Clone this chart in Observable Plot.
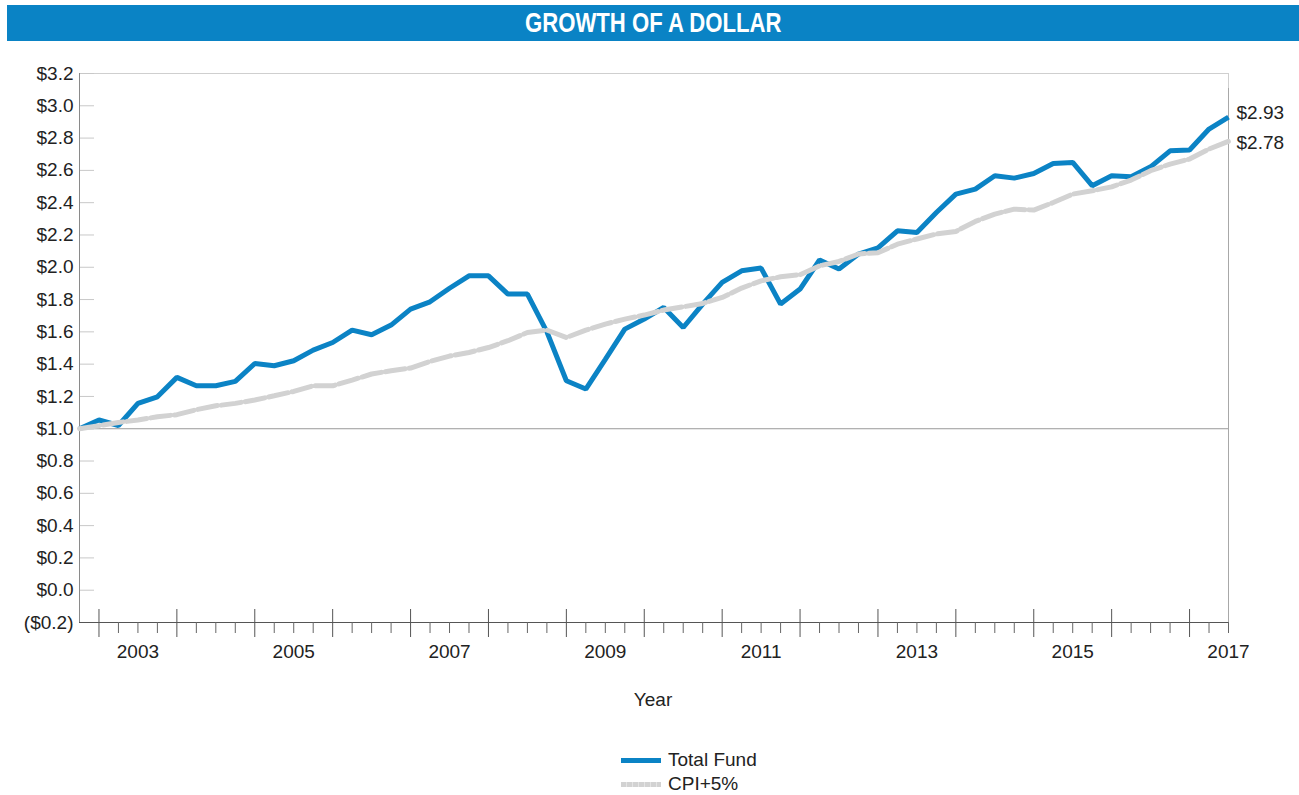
<!DOCTYPE html>
<html><head><meta charset="utf-8">
<script src="https://cdn.jsdelivr.net/npm/d3@7"></script>
<script src="https://cdn.jsdelivr.net/npm/@observablehq/plot@0.6"></script>
<style>
body{margin:0;background:#fff;font-family:"Liberation Sans",Arial,sans-serif;color:#222;}
#wrap{position:relative;width:1299px;height:795px;overflow:hidden;background:#fff;}
#title{position:absolute;left:7px;top:5px;width:1292px;height:36px;background:#0a83c5;color:#fff;
 display:flex;align-items:center;justify-content:center;}
#title span{display:inline-block;font-weight:bold;font-size:28px;transform:scaleX(0.79);letter-spacing:0;}
#chart{position:absolute;left:0;top:46px;}
.leg{position:absolute;left:621px;display:flex;align-items:center;font-size:19px;height:24px;}
.sw{width:40px;height:5px;margin-right:7px;}
</style></head>
<body><div id="wrap">
<div id="title"><span>GROWTH OF A DOLLAR</span></div>
<div id="chart"></div>
<div class="leg" style="top:748px"><div class="sw" style="background:#0b83c5"></div><span>Total Fund</span></div>
<div class="leg" style="top:772px"><div class="sw" style="background:repeating-linear-gradient(90deg,#d2d2d2 0 5px,#e4e4e4 5px 6px)"></div><span>CPI+5%</span></div>
</div>
<script>
const quarterEnds = [
 "2002-09","2002-12",
 "2003-03","2003-06","2003-09","2003-12",
 "2004-03","2004-06","2004-09","2004-12",
 "2005-03","2005-06","2005-09","2005-12",
 "2006-03","2006-06","2006-09","2006-12",
 "2007-03","2007-06","2007-09","2007-12",
 "2008-03","2008-06","2008-09","2008-12",
 "2009-03","2009-06","2009-09","2009-12",
 "2010-03","2010-06","2010-09","2010-12",
 "2011-03","2011-06","2011-09","2011-12",
 "2012-03","2012-06","2012-09","2012-12",
 "2013-03","2013-06","2013-09","2013-12",
 "2014-03","2014-06","2014-09","2014-12",
 "2015-03","2015-06","2015-09","2015-12",
 "2016-03","2016-06","2016-09","2016-12",
 "2017-03","2017-06"
];
const totalFund = [
 1.00,1.054,
 1.02,1.157,1.198,1.318,
 1.266,1.266,1.293,1.404,
 1.39,1.421,1.487,1.534,
 1.611,1.582,1.642,1.741,
 1.786,1.87,1.947,1.947,
 1.834,1.834,1.60,1.297,
 1.246,1.43,1.617,1.679,
 1.751,1.627,1.772,1.906,
 1.978,1.995,1.772,1.865,
 2.045,1.989,2.082,2.12,
 2.226,2.216,2.339,2.453,
 2.484,2.567,2.552,2.581,
 2.643,2.649,2.505,2.567,
 2.56,2.622,2.721,2.726,
 2.856,2.93
];
const cpiPlus5 = [
 1.00,1.019,
 1.039,1.054,1.074,1.087,
 1.118,1.142,1.157,1.178,
 1.204,1.231,1.266,1.266,
 1.301,1.339,1.359,1.376,
 1.417,1.45,1.472,1.503,
 1.545,1.596,1.611,1.565,
 1.611,1.648,1.679,1.704,
 1.735,1.755,1.776,1.813,
 1.871,1.916,1.941,1.954,
 2.009,2.036,2.082,2.09,
 2.143,2.175,2.206,2.222,
 2.284,2.329,2.36,2.354,
 2.401,2.453,2.474,2.498,
 2.54,2.598,2.639,2.67,
 2.732,2.78
];
const yTicks = [-0.2,0,0.2,0.4,0.6,0.8,1.0,1.2,1.4,1.6,1.8,2.0,2.2,2.4,2.6,2.8,3.0,3.2];
const yearLabels = ["2003","2005","2007","2009","2011","2013","2015","2017"];
const majorYears = ["2003","2004","2005","2006","2007","2008","2009","2010","2011","2012","2013","2014","2015","2016","2017"];
const seriesNames = ["Total Fund","CPI+5%"];

const toYear = s => { const [y,m] = s.split("-").map(Number); return y + m/12; };
const tq = quarterEnds.map(toYear);
const fund = tq.map((t,i)=>({t, v: totalFund[i], s: seriesNames[0]}));
const cpi = tq.map((t,i)=>({t, v: cpiPlus5[i], s: seriesNames[1]}));
const xDomain = [tq[0], tq[tq.length-1]];
const majorPos = majorYears.map(Number);
const minorPos = tq.slice(1).filter(t => !Number.isInteger(t));
const labelPos = yearLabels.map(y => +y + 0.5);
const yFmt = d => d < 0 ? `($${Math.abs(d).toFixed(1)})` : `$${d.toFixed(1)}`;

const W = 1299, H = 680, mL = 79, mR = 71, mT = 27, mB = 104;
const frameW = W - mL - mR, frameH = H - mT - mB;

const chart = Plot.plot({
  width: W, height: H,
  marginLeft: mL, marginRight: mR, marginTop: mT, marginBottom: mB,
  x: {domain: xDomain},
  y: {domain: [yTicks[0], yTicks[yTicks.length-1]]},
  style: {fontFamily: '"Liberation Sans", Arial, sans-serif', fontSize: "19px", color: "#222", background: "#fff"},
  marks: [
    Plot.frame({stroke: "#cfcfcf"}),
    Plot.tickY(yTicks, {stroke: "#c8c8c8", insetRight: frameW - 15}),
    Plot.ruleY([1], {stroke: "#9a9a9a", strokeWidth: 1}),
    Plot.ruleX([xDomain[0]], {stroke: "#8a8a8a"}),
    Plot.ruleX([xDomain[1]], {stroke: "#a8a8a8", y1: yTicks[0], y2: yTicks[yTicks.length-1], insetBottom: -15}),
    Plot.ruleY([yTicks[0]], {stroke: "#555"}),
    Plot.tickX(majorPos, {stroke: "#555", insetTop: frameH - 13, insetBottom: -15}),
    Plot.tickX(minorPos, {stroke: "#666", insetTop: frameH, insetBottom: -11}),
    Plot.axisY({ticks: yTicks, tickSize: 0, tickPadding: 6, tickFormat: yFmt, label: null, fontSize: 19}),
    Plot.axisX({ticks: labelPos, tickSize: 0, tickPadding: 22, tickFormat: d => String(Math.floor(d)), label: null, fontSize: 19}),
    Plot.text(["Year"], {frameAnchor: "bottom", dy: 83, dx: -1, fontSize: 19, fill: "#222"}),
    Plot.line(fund, {x: "t", y: "v", stroke: "#0b83c5", strokeWidth: 5, strokeLinejoin: "miter", strokeLinecap: "butt"}),
    Plot.line(cpi, {x: "t", y: "v", stroke: "#d2d2d2", strokeWidth: 5, strokeDasharray: "20,4", strokeLinejoin: "miter"}),
    Plot.text([fund[fund.length-1]], {x: "t", y: "v", text: d => "$" + d.v.toFixed(2), textAnchor: "start", dx: 8, dy: -4, fontSize: 19, fill: "#222"}),
    Plot.text([cpi[cpi.length-1]], {x: "t", y: "v", text: d => "$" + d.v.toFixed(2), textAnchor: "start", dx: 8, dy: 2, fontSize: 19, fill: "#222"})
  ]
});
document.getElementById("chart").appendChild(chart);
</script>
</body></html>
